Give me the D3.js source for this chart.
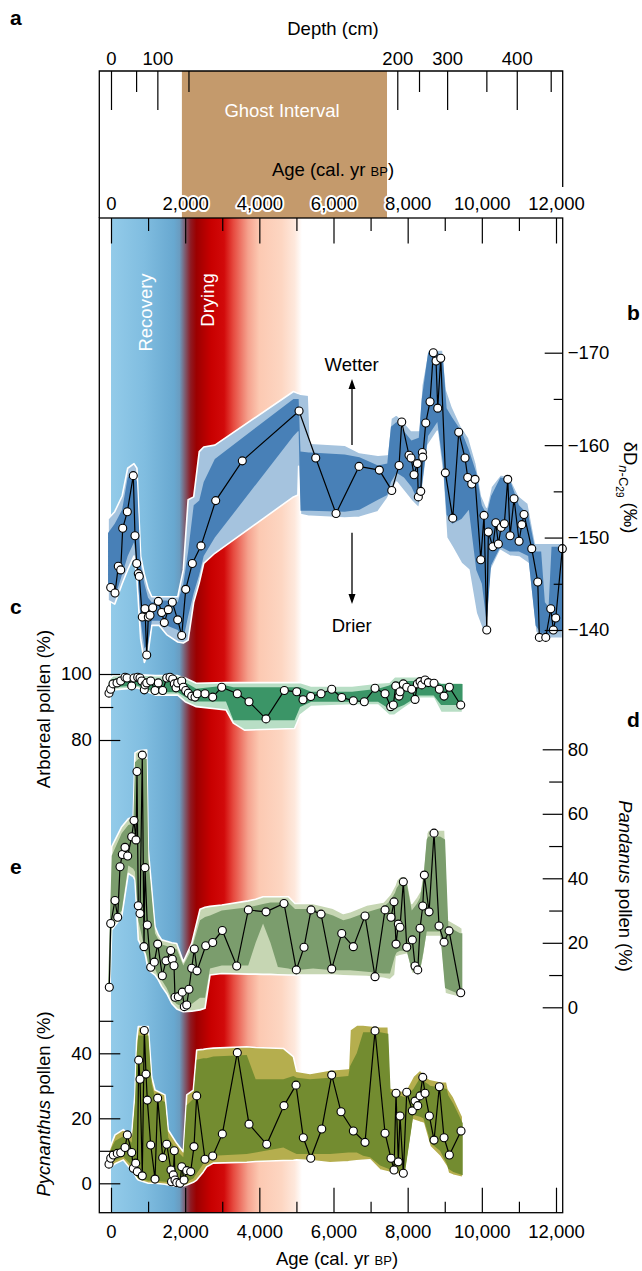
<!DOCTYPE html>
<html>
<head>
<meta charset="utf-8">
<script src="https://cdn.jsdelivr.net/npm/d3@7"></script>
<style>
  body { margin: 0; background: #fff; }
  svg { display: block; }
  svg text { font-family: Arial, "Liberation Sans", Helvetica, sans-serif; font-size: 18.5px; fill: #000; }
  svg text.panel { font-size: 21px; font-weight: bold; }
  svg text.white { fill: #fff; }
</style>
</head>
<body>
<script>

// ---- data ----
const ageTicksMajor = [0, 2000, 4000, 6000, 8000, 10000, 12000];
const ageTicksMinor = [1000, 3000, 5000, 7000, 9000, 11000];
const depthLabels = [0, 100, 200, 300, 400];
const depthMinor = [50, 150, 250, 350, 450];
const depthKnots = [0, 50, 100, 150, 200, 250, 300, 350, 400, 450];
const depthKnotAges = [0, 677, 1250, 2089, 7720, 8306, 9064, 10122, 10942, 11857];
const ghostInterval = [1912, 7443];

// [age, colour] stops of the recovery / drying shading
const climateStops = [
  [0, '#93cbe9'], [900, '#80bde0'], [1700, '#68a8d0'], [1850, '#6a9cc0'],
  [1980, '#7b6378'], [2150, '#8e1a22'], [2300, '#9b0000'], [2700, '#c80000'],
  [3050, '#d20a0a'], [3300, '#e64a3f'], [3700, '#f5a28e'], [4000, '#fcc9b2'],
  [4600, '#fdd6c2'], [4950, '#fee8dc'], [5150, '#ffffff']
];

// b: dD n-C29 (per mil) [age, value]
const deltaD = [
  [-8, -144.6], [108, -144.0], [197, -146.9], [262, -146.5], [316, -151.0], [440, -152.8],
  [601, -156.7], [647, -150.2], [693, -147.2], [736, -146.1], [763, -145.8], [844, -141.4],
  [917, -142.3], [963, -137.3], [1006, -141.4], [1052, -141.6], [1125, -142.4], [1276, -143.1],
  [1367, -141.9], [1438, -140.8], [1545, -142.2], [1653, -143.0], [1799, -141.1], [1907, -139.4],
  [2015, -144.4], [2193, -147.2], [2427, -149.1], [2824, -154.0], [3541, -158.3], [5071, -163.7],
  [5521, -158.6], [6068, -152.6], [6689, -157.7], [7236, -157.3], [7571, -155.1], [7768, -157.8],
  [7840, -162.5], [8037, -158.9], [8091, -158.6], [8172, -156.8], [8261, -158.0], [8288, -154.4],
  [8353, -155.0], [8396, -159.2], [8407, -158.7], [8488, -162.4], [8603, -164.7], [8692, -170.0],
  [8765, -169.1], [8811, -164.0], [8892, -169.4], [9016, -157.0], [9216, -152.1], [9377, -161.4],
  [9547, -158.6], [9620, -156.5], [9728, -155.8], [9817, -156.3], [9971, -147.6], [10060, -152.4],
  [10133, -140.0], [10176, -150.6], [10295, -149.0], [10376, -151.6], [10446, -149.3], [10518, -151.1],
  [10607, -151.5], [10699, -156.3], [10761, -150.2], [10869, -154.2], [11004, -149.6], [11077, -151.4],
  [11138, -152.5], [11346, -148.8], [11508, -145.2], [11551, -139.2], [11724, -139.2], [11859, -142.3],
  [11929, -140.0], [11993, -141.3], [12171, -148.8]
];
// [age, outer edge, inner edge, inner edge, outer edge]
const deltaDBand = [
  [-80, -152.0, -150.5, -144.5, -143.2], [100, -152.8, -151.5, -143.5, -142.8],
  [300, -154.5, -153.0, -146.0, -145.0], [450, -157.5, -156.5, -148.0, -146.5],
  [620, -158.0, -157.2, -149.5, -148.0], [700, -157.5, -156.0, -147.0, -145.5],
  [800, -148.0, -147.0, -141.0, -139.0], [900, -146.0, -145.0, -138.0, -136.5],
  [1000, -144.5, -143.5, -138.5, -137.5], [1100, -143.6, -143.0, -141.0, -140.5],
  [1300, -143.6, -143.2, -141.0, -140.5], [1500, -143.6, -143.2, -140.5, -139.5],
  [1800, -143.6, -143.0, -140.0, -138.7], [1950, -146.5, -145.0, -139.0, -138.6],
  [2080, -154.1, -148.5, -141.5, -138.9], [2230, -154.4, -153.5, -144.0, -143.0],
  [2380, -159.3, -154.0, -146.0, -145.1], [2500, -159.8, -156.0, -148.0, -147.2],
  [2800, -160.0, -158.5, -150.0, -148.3], [4920, -165.8, -165.0, -161.0, -154.4],
  [5040, -165.6, -165.0, -161.5, -154.6], [5060, -165.6, -165.0, -161.5, -157.7],
  [5110, -165.5, -159.3, -152.9, -152.5], [5330, -165.4, -159.2, -152.9, -152.3],
  [5380, -160.2, -159.2, -152.9, -152.3], [6300, -160.0, -159.0, -152.8, -152.1],
  [6700, -159.2, -158.7, -153.0, -152.2], [7200, -158.9, -157.8, -154.1, -152.8],
  [7450, -159.0, -158.0, -154.6, -154.2], [7550, -162.9, -162.0, -156.0, -155.0],
  [7700, -163.3, -162.5, -157.0, -156.0], [7900, -162.5, -161.5, -156.5, -155.0],
  [8100, -161.6, -160.5, -155.5, -154.0], [8300, -161.6, -160.8, -153.8, -153.2],
  [8380, -166.5, -165.0, -155.5, -154.5], [8550, -170.3, -170.0, -161.0, -160.0],
  [8800, -170.3, -170.1, -162.5, -161.5], [8950, -170.3, -169.5, -158.0, -156.5],
  [9050, -166.0, -164.0, -152.5, -150.0], [9200, -164.2, -163.0, -151.5, -149.0],
  [9450, -162.0, -161.5, -152.0, -147.2], [9650, -160.8, -159.5, -153.0, -146.5],
  [9850, -158.0, -157.0, -146.5, -141.8], [10000, -154.5, -153.5, -145.0, -140.2],
  [10130, -153.3, -152.5, -140.8, -139.5], [10250, -155.5, -154.5, -147.0, -146.5],
  [10500, -156.8, -156.5, -149.0, -148.6], [10750, -156.6, -156.3, -148.5, -148.0],
  [11000, -154.5, -153.5, -148.5, -147.9], [11250, -153.7, -152.5, -148.0, -147.2],
  [11450, -149.4, -148.5, -140.5, -139.8], [11600, -149.4, -148.5, -139.6, -139.1],
  [11700, -149.4, -143.0, -139.6, -139.1], [11800, -149.4, -142.5, -139.6, -139.1],
  [11880, -149.4, -149.0, -139.6, -139.1], [12180, -149.4, -149.0, -140.0, -139.1]
];

// c: arboreal pollen (%)
const arboreal = [
  [-54, 94.2], [-8, 95.4], [54, 97], [162, 97.3], [262, 97.9], [378, 99], [432, 98.8],
  [558, 96.4], [620, 98.8], [720, 99], [782, 98.8], [828, 97.9], [898, 95.2], [917, 96.7],
  [963, 97.3], [1071, 97.9], [1187, 95], [1276, 97.3], [1394, 95], [1502, 98.8], [1591, 99],
  [1664, 98.5], [1707, 97], [1753, 95.8], [1799, 97.3], [1907, 97.9], [1950, 96], [2015, 95],
  [2085, 94.2], [2176, 93.3], [2266, 93], [2328, 94], [2535, 94], [2743, 93], [2986, 96],
  [3406, 94], [3722, 91.6], [4180, 86.4], [4674, 95], [5008, 94.6], [5178, 92.2], [5386, 93.2],
  [5664, 94], [5952, 95.4], [6222, 92.9], [6535, 91.9], [6831, 91.6], [7120, 95.7], [7390, 94],
  [7543, 90.1], [7613, 90.6], [7678, 96.4], [7767, 93.3], [7794, 94.6], [7883, 97], [7975, 96],
  [8110, 95.4], [8199, 92.3], [8261, 97], [8334, 97.7], [8380, 96.7], [8469, 98.2], [8558, 97.4],
  [8711, 97.2], [8854, 95.4], [8981, 93.3], [9124, 96], [9431, 90.6]
];
const arborealBand = [
  [-80, 93.0, 94.0, 96.5, 98.0], [50, 95.2, 96.0, 98.5, 99.5], [700, 95.8, 96.5, 99.0, 99.8],
  [1200, 93.6, 94.5, 98.0, 99.5], [1800, 93.6, 94.5, 98.5, 99.5], [2000, 91.6, 93.0, 97.5, 98.8],
  [2300, 90.1, 91.7, 95.5, 97.2], [3100, 89.1, 91.7, 96.5, 97.4], [3300, 85.1, 86.0, 96.0, 97.4],
  [3600, 83.0, 86.0, 96.0, 97.4], [4950, 83.5, 86.0, 96.0, 97.4], [5100, 87.5, 90.0, 96.0, 97.4],
  [5400, 90.1, 91.6, 94.6, 96.4], [6500, 90.6, 91.6, 94.6, 96.4], [7200, 90.6, 91.6, 95.5, 97.3],
  [7500, 87.5, 89.5, 96.5, 97.5], [7650, 87.5, 89.5, 97.5, 99.2], [7900, 89.6, 90.6, 97.9, 99.2],
  [8300, 92.6, 93.5, 97.9, 99.2], [8700, 92.6, 93.5, 97.9, 98.5], [8900, 88.3, 90.6, 97.0, 97.4],
  [9480, 88.3, 90.6, 97.0, 97.4]
];

// d: Pandanus pollen (%)
const pandanus = [
  [-46, 6.2], [-8, 26.0], [108, 33.1], [181, 27.9], [243, 43.6], [305, 47.4], [378, 49.6],
  [450, 46.9], [558, 52.9], [620, 57.9], [674, 51.9], [701, 73.1], [736, 31.5], [782, 29.1],
  [844, 78.2], [890, 18.8], [917, 43.3], [979, 25.5], [1071, 12.4], [1168, 14.0], [1259, 19.6],
  [1384, 9.8], [1483, 14.4], [1610, 17.6], [1653, 14.9], [1699, 12.9], [1726, 3.1], [1815, 3.3],
  [1923, 4.7], [1977, 0.2], [2042, 0.7], [2103, 5.6], [2176, 12.1], [2247, 18.1], [2319, 11.3],
  [2554, 19.1], [2743, 20.1], [3002, 23.8], [3390, 12.8], [3703, 30.2], [4180, 29.6], [4665, 32.2],
  [4997, 11.6], [5205, 18.6], [5394, 30.2], [5664, 28.9], [5952, 11.9], [6222, 22.9], [6535, 18.8],
  [6850, 28.3], [7120, 9.5], [7390, 30.2], [7551, 27.9], [7632, 32.7], [7686, 19.6], [7748, 25.8],
  [7794, 24.8], [7883, 38.9], [7975, 18.6], [8126, 20.9], [8199, 12.8], [8272, 11.6], [8334, 24.5],
  [8407, 31.4], [8450, 41.0], [8577, 29.6], [8711, 54.0], [8846, 25.2], [8981, 20.2], [9116, 23.7],
  [9431, 4.5]
];
const pandanusBand = [
  [-75, 4.5, 5, 7.5, 8.5], [-35, 4.5, 5.5, 25, 27], [19, 24, 26, 47, 49.8], [289, 28.1, 30, 54, 56],
  [467, 41.5, 44, 56.5, 58.5], [600, 40.5, 43, 57, 59.1], [647, 39.5, 42, 76, 78.9],
  [736, 20.9, 27, 77, 79.5], [917, 16.7, 17.5, 77, 79.8], [963, 14, 16, 77, 79.8],
  [1006, 11.6, 13.5, 46, 48.8], [1187, 10, 12, 23, 25], [1276, 8.5, 9.5, 21, 22.5],
  [1367, 6.5, 8.5, 19.5, 20.9], [1502, 4.3, 6, 19, 20.5], [1637, 1.2, 2.5, 18.5, 20],
  [1772, -0.5, 1, 18, 19.8], [1950, -1.4, 0, 13, 14.1], [2176, -1.2, 1, 18, 19.8],
  [2400, -0.8, 3, 27, 30.4], [2535, -0.3, 3, 28, 31], [2670, 10, 12, 28.5, 31.3],
  [2986, 10.5, 13, 30, 31.7], [3700, 10.3, 13, 31, 33], [3900, 10.3, 20, 31.5, 33.5],
  [4100, 10.2, 26, 32, 34.3], [4300, 10.2, 20, 32.5, 34.3], [4500, 10.1, 12.5, 32.5, 34.3],
  [4782, 10, 12, 32.5, 34.3], [4962, 10, 11.5, 30.5, 32.2], [5448, 10, 12, 30.5, 32.2],
  [5987, 10, 11.5, 28.5, 30.7], [6265, 9.8, 11.5, 27, 29.1], [6445, 9.7, 11.5, 27.5, 29.6],
  [6896, 9.5, 11, 29.5, 31.7], [7344, 9, 10.5, 31, 32.7], [7524, 8.5, 10.5, 33, 35],
  [7659, 10, 16, 35.5, 37.9], [7704, 15.7, 17, 37, 39.5], [7794, 16, 17.5, 38.5, 40.5],
  [7975, 16.4, 17.5, 38.5, 40.5], [8110, 10.5, 11.5, 30, 32.2], [8245, 10.5, 11, 32, 34.3],
  [8334, 10.5, 11.5, 34, 36], [8423, 15, 17, 40, 42.6], [8514, 21.9, 23.5, 52, 54],
  [8558, 21.9, 23.5, 53, 55], [8873, 21.9, 23.5, 53, 55], [9008, 4.3, 6, 52, 55],
  [9097, 4, 5.5, 25, 27.1], [9412, 3, 4, 23, 25], [9474, 2.8, 3.8, 23, 24.5]
];

// e: Pycnanthus pollen (%)
const pycnanthus = [
  [-54, 5.9], [-8, 7.7], [62, 8.7], [170, 9.2], [262, 9.4], [378, 11], [440, 14.9], [558, 9.5],
  [601, 4.6], [666, 6.2], [709, 3.6], [747, 37.9], [782, 32], [844, 2.3], [898, 47], [944, 33.6],
  [979, 25.6], [1071, 11.8], [1187, 1.3], [1259, 26.2], [1394, 7.9], [1502, 12], [1618, 4.1],
  [1632, 0.5], [1680, 2.6], [1707, 10], [1726, 1], [1772, 0.2], [1861, 0], [1907, 5.1], [1969, 1],
  [2042, 3.9], [2149, 3.6], [2238, 11.3], [2311, 26.9], [2535, 7.4], [2743, 8.4], [3002, 15.2],
  [3406, 40.2], [3722, 18.2], [4199, 12], [4665, 23.9], [4989, 30.2], [5186, 14], [5386, 7.7],
  [5683, 16.7], [5952, 33.3], [6203, 22], [6535, 16.1], [6850, 12.6], [7120, 46.9], [7390, 15.4],
  [7551, 7.7], [7632, 4.1], [7686, 27.7], [7748, 6.6], [7794, 20.7], [7883, 3.1], [7975, 28],
  [8126, 22.3], [8199, 25.3], [8272, 23.9], [8334, 26.9], [8407, 32.6], [8469, 27.7], [8585, 20.7],
  [8711, 13.3], [8854, 29.7], [8981, 14], [9124, 8.7], [9439, 16.1]
];
const pycnanthusBand = [
  [-70, 4.8, 5.3, 7.5, 9.5], [19, 5.1, 6.3, 11, 12.3], [108, 6, 7, 13, 14.9],
  [332, 7.2, 8.2, 14.5, 16.5], [512, 4.6, 6, 13, 14.9], [558, 4, 5, 12.5, 14.9],
  [647, 2.5, 3, 25, 27.7], [693, 1.5, 2, 40, 44], [736, 1, 1.5, 45.5, 48.2],
  [1006, 0, 0.8, 45.5, 48.2], [1098, 0, 0.8, 30.5, 32.8], [1187, 0, 0.7, 26.5, 28.7],
  [1456, -0.3, 0.5, 25, 27.2], [1545, -0.5, 0.3, 14, 16.4], [1772, -1, -0.3, 10, 12.3],
  [1950, -0.8, 0, 8, 9.7], [2042, -0.5, 0.5, 24, 27.2], [2220, 0.3, 1.5, 26, 28.7],
  [2311, 1, 3, 38, 41], [2489, 3.5, 6, 38.5, 41.2], [2581, 5.1, 7, 38.5, 41.4],
  [2759, 6.2, 8.5, 39, 41.6], [3660, 6.5, 9, 39.5, 42], [3900, 6.7, 9.5, 32, 41.8],
  [4647, 7, 11, 32, 41.5], [4917, 7.1, 9.5, 33, 39], [5007, 7.2, 9, 32.5, 34.5],
  [5367, 7, 9, 32, 33.8], [5906, 6.3, 9, 32.5, 34.9], [6400, 6.6, 9.5, 33, 35.3],
  [6445, 6.7, 9.5, 36, 47.2], [6626, 6.9, 9.5, 40, 48.7], [6800, 7.1, 8.5, 46.5, 48.7],
  [6985, 7.2, 8, 46.5, 48.5], [7255, 4.1, 5.5, 46.5, 48.2], [7478, 3.5, 4.5, 46, 48.2],
  [7540, 3.2, 4.2, 28, 29.3], [7929, 2.5, 3.5, 26.5, 28.2], [8153, 19.5, 21, 29, 33],
  [8334, 18.8, 20.5, 32.5, 34.9], [8423, 18.5, 20, 31.5, 33.8], [8558, 13, 15, 30.5, 32.3],
  [8603, 11.3, 12.5, 30, 32], [8873, 8.2, 10, 29.5, 31.3], [9053, 5, 6, 29, 31.3],
  [9097, 3.1, 4.5, 27, 29], [9232, 2.5, 3.5, 24.5, 26.7], [9485, 1.8, 2.5, 18.5, 20.5]
];

// ---- layout ----
const W = 642, H = 1271;
const frame = {left: 99.3, right: 562.7, top: 218, bottom: 1212.7};
const boxA = {top: 71, rightEnd: 187};

const svg = d3.select('body').append('svg').attr('width', W).attr('height', H);

const x = d3.scaleLinear().domain([0, 12000]).range([111, 556]);
const yD = d3.scaleLinear().domain([-170, -140]).range([352.7, 630]);
const yA = d3.scaleLinear().domain([80, 100]).range([740, 674]);
const yP = d3.scaleLinear().domain([0, 80]).range([1007.3, 749.3]);
const yQ = d3.scaleLinear().domain([0, 40]).range([1183.3, 1053.3]);
const depthX = d3.scaleLinear().domain(depthKnots).range(depthKnotAges.map(x));

const fmt = d3.format(',');

function clean(g) {
  g.select('.domain').remove();
  g.selectAll('.tick line').attr('stroke', '#000').attr('stroke-width', 1.2);
}

// shading of the recovery / drying phases
const defs = svg.append('defs');
const gradSpan = climateStops[climateStops.length - 1][0];
const grad = defs.append('linearGradient').attr('id', 'climate')
  .attr('gradientUnits', 'userSpaceOnUse')
  .attr('x1', x(0)).attr('x2', x(gradSpan))
  .attr('y1', 0).attr('y2', 0);
grad.selectAll('stop').data(climateStops).join('stop')
  .attr('offset', d => d[0] / gradSpan)
  .attr('stop-color', d => d[1]);

svg.append('rect')
  .attr('x', x(0)).attr('y', frame.top)
  .attr('width', x(gradSpan) - x(0)).attr('height', frame.bottom - frame.top)
  .attr('fill', 'url(#climate)');

svg.append('text').attr('class', 'white')
  .attr('transform', 'translate(151.7,312.5) rotate(-90)')
  .attr('text-anchor', 'middle').text('Recovery');
svg.append('text').attr('class', 'white')
  .attr('transform', 'translate(214.3,300) rotate(-90)')
  .attr('text-anchor', 'middle').text('Drying');

// ---- panel a ----
svg.append('rect')
  .attr('x', x(ghostInterval[0])).attr('y', boxA.top)
  .attr('width', x(ghostInterval[1]) - x(ghostInterval[0]))
  .attr('height', frame.top - boxA.top)
  .attr('fill', '#c49a6c');
svg.append('text').attr('class', 'white').attr('x', 282).attr('y', 116.5)
  .attr('text-anchor', 'middle').text('Ghost Interval');

svg.append('g').attr('transform', `translate(0,${boxA.top})`)
  .call(d3.axisTop(depthX).tickValues(depthLabels).tickSizeInner(-39).tickSizeOuter(0).tickPadding(6))
  .call(clean);
svg.append('g').attr('transform', `translate(0,${boxA.top})`)
  .call(d3.axisTop(depthX).tickValues(depthMinor).tickSizeInner(-21).tickSizeOuter(0).tickFormat(''))
  .call(clean);

svg.append('text').attr('x', 333).attr('y', 34.7).attr('text-anchor', 'middle').text('Depth (cm)');

const ageTitleTop = svg.append('text').attr('x', 333).attr('y', 176).attr('text-anchor', 'middle');
ageTitleTop.append('tspan').text('Age (cal. yr ');
ageTitleTop.append('tspan').style('font-size', '13px').text('BP');
ageTitleTop.append('tspan').text(')');

svg.append('path')
  .attr('d', `M${frame.left},${frame.top}V${boxA.top}H${frame.right}V${boxA.rightEnd}`)
  .attr('fill', 'none').attr('stroke', '#000').attr('stroke-width', 1.3);

// ---- series ----
function drawSeries(band, pts, y, light, dark) {
  const g = svg.append('g');
  g.append('path').datum(band)
    .attr('d', d3.area().x(d => x(d[0])).y0(d => y(d[1])).y1(d => y(d[4])))
    .attr('fill', light).attr('stroke', '#fff').attr('stroke-width', 1.6)
    .attr('stroke-linejoin', 'round');
  g.append('path').datum(band)
    .attr('d', d3.area().x(d => x(d[0])).y0(d => y(d[2])).y1(d => y(d[3])))
    .attr('fill', dark);
  g.append('path').datum(pts)
    .attr('d', d3.line().x(d => x(d[0])).y(d => y(d[1])))
    .attr('fill', 'none').attr('stroke', '#000').attr('stroke-width', 1.2);
  g.selectAll('circle').data(pts).join('circle')
    .attr('cx', d => x(d[0])).attr('cy', d => y(d[1])).attr('r', 4)
    .attr('fill', '#fff').attr('stroke', '#000').attr('stroke-width', 1.1);
}

drawSeries(deltaDBand, deltaD, yD, '#a5c3de', '#4880b7');
drawSeries(arborealBand, arboreal, yA, '#b8dec5', '#3b9567');
drawSeries(pandanusBand, pandanus, yP, '#c6d6b3', '#7b9d6d');
drawSeries(pycnanthusBand, pycnanthus, yQ, '#b5ae4e', '#738c30');

// wetter / drier
svg.append('text').attr('x', 351.7).attr('y', 371.3).attr('text-anchor', 'middle').text('Wetter');
svg.append('text').attr('x', 351.7).attr('y', 632.3).attr('text-anchor', 'middle').text('Drier');
svg.append('path').attr('d', 'M352,445V386M352,532.7V597')
  .attr('stroke', '#000').attr('stroke-width', 1.3);
svg.append('path').attr('d', 'M352,379L348.5,389L355.5,389ZM352,604L348.5,594L355.5,594Z')
  .attr('fill', '#000');

// ---- main frame and axes ----
svg.append('g').attr('transform', `translate(0,${frame.top})`)
  .call(d3.axisTop(x).tickValues(ageTicksMajor).tickSizeInner(-25.5).tickSizeOuter(0)
    .tickPadding(8).tickFormat(fmt))
  .call(clean)
  .call(g => g.selectAll('text')
    .attr('stroke', '#fff').attr('stroke-width', 4)
    .attr('stroke-linejoin', 'round').attr('paint-order', 'stroke'));
svg.append('g').attr('transform', `translate(0,${frame.top})`)
  .call(d3.axisTop(x).tickValues(ageTicksMinor).tickSizeInner(-13).tickSizeOuter(0).tickFormat(''))
  .call(clean);

svg.append('g').attr('transform', `translate(0,${frame.bottom})`)
  .call(d3.axisBottom(x).tickValues(ageTicksMajor).tickSizeInner(-25).tickSizeOuter(0)
    .tickPadding(12.5).tickFormat(fmt))
  .call(clean);
svg.append('g').attr('transform', `translate(0,${frame.bottom})`)
  .call(d3.axisBottom(x).tickValues(ageTicksMinor).tickSizeInner(-11).tickSizeOuter(0).tickFormat(''))
  .call(clean);

const ageTitle = svg.append('text').attr('x', 337).attr('y', 1265).attr('text-anchor', 'middle');
ageTitle.append('tspan').text('Age (cal. yr ');
ageTitle.append('tspan').style('font-size', '13px').text('BP');
ageTitle.append('tspan').text(')');

// b axis (right)
svg.append('g').attr('transform', `translate(${frame.right},0)`)
  .call(d3.axisRight(yD).tickValues([-170, -160, -150, -140]).tickSizeInner(-18).tickSizeOuter(0).tickPadding(5))
  .call(clean);
svg.append('g').attr('transform', `translate(${frame.right},0)`)
  .call(d3.axisRight(yD).tickValues([-165, -155, -145]).tickSizeInner(-9).tickSizeOuter(0).tickFormat(''))
  .call(clean);
const dLabel = svg.append('text').attr('transform', 'translate(623.5,441.7) rotate(90)');
dLabel.append('tspan').text('δD');
dLabel.append('tspan').attr('dy', 5).style('font-size', '13px').style('font-style', 'italic').text('n');
dLabel.append('tspan').style('font-size', '13px').text('-C');
dLabel.append('tspan').attr('dy', 3).style('font-size', '10px').text('29');
dLabel.append('tspan').attr('dy', -8).text(' (‰)');

// c axis (left)
svg.append('g').attr('transform', `translate(${frame.left},0)`)
  .call(d3.axisLeft(yA).tickValues([80, 100]).tickSizeInner(-21).tickSizeOuter(0).tickPadding(7.5))
  .call(clean);
svg.append('g').attr('transform', `translate(${frame.left},0)`)
  .call(d3.axisLeft(yA).tickValues([90]).tickSizeInner(-14).tickSizeOuter(0).tickFormat(''))
  .call(clean);
svg.append('text').attr('transform', 'translate(49.5,709) rotate(-90)')
  .attr('text-anchor', 'middle').text('Arboreal pollen (%)');

// d axis (right)
svg.append('g').attr('transform', `translate(${frame.right},0)`)
  .call(d3.axisRight(yP).tickValues([0, 20, 40, 60, 80]).tickSizeInner(-20).tickSizeOuter(0).tickPadding(5))
  .call(clean);
svg.append('g').attr('transform', `translate(${frame.right},0)`)
  .call(d3.axisRight(yP).tickValues([10, 30, 50, 70]).tickSizeInner(-13.5).tickSizeOuter(0).tickFormat(''))
  .call(clean);
const pLabel = svg.append('text').attr('transform', 'translate(619,886) rotate(90)')
  .attr('text-anchor', 'middle');
pLabel.append('tspan').style('font-style', 'italic').text('Pandanus');
pLabel.append('tspan').text(' pollen (%)');

// e axis (left)
svg.append('g').attr('transform', `translate(${frame.left},0)`)
  .call(d3.axisLeft(yQ).tickValues([0, 20, 40]).tickSizeInner(-21).tickSizeOuter(0).tickPadding(7.5))
  .call(clean);
svg.append('g').attr('transform', `translate(${frame.left},0)`)
  .call(d3.axisLeft(yQ).tickValues([10, 30, 50]).tickSizeInner(-14).tickSizeOuter(0).tickFormat(''))
  .call(clean);
const qLabel = svg.append('text').attr('transform', 'translate(49.5,1104) rotate(-90)')
  .attr('text-anchor', 'middle');
qLabel.append('tspan').style('font-style', 'italic').text('Pycnanthus');
qLabel.append('tspan').text(' pollen (%)');

svg.append('rect')
  .attr('x', frame.left).attr('y', frame.top)
  .attr('width', frame.right - frame.left).attr('height', frame.bottom - frame.top)
  .attr('fill', 'none').attr('stroke', '#000').attr('stroke-width', 1.3);

// panel letters
[['a', 10, 25], ['b', 627, 320], ['c', 10, 614], ['d', 627, 726.7], ['e', 10, 874]]
  .forEach(([t, px, py]) => svg.append('text').attr('class', 'panel').attr('x', px).attr('y', py).text(t));

</script>
</body>
</html>
